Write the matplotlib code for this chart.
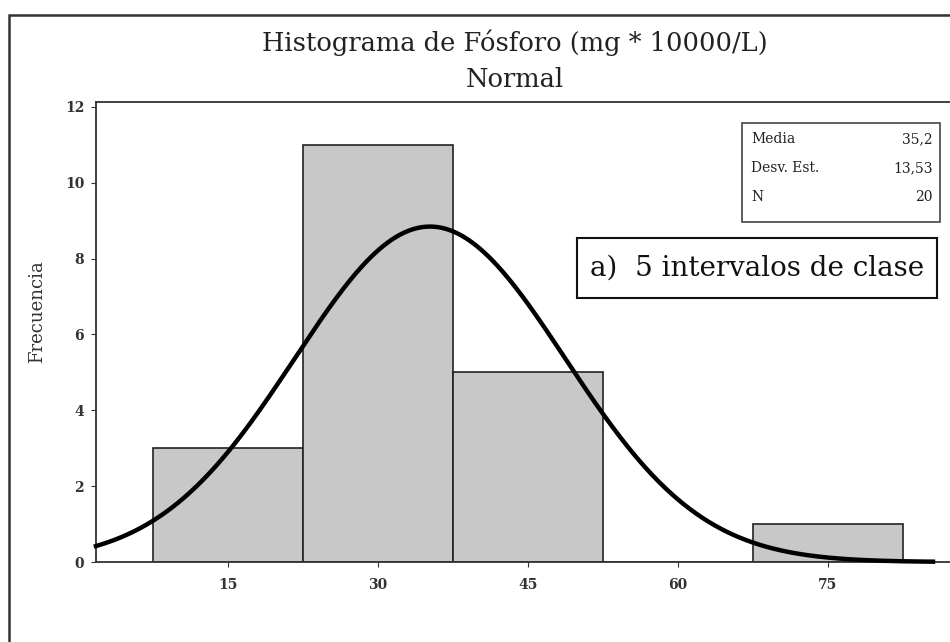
import numpy as np
import matplotlib
matplotlib.use("Agg")
import matplotlib.pyplot as plt
from matplotlib.patches import Rectangle

# histogram data
bin_edges = [7.5, 22.5, 37.5, 52.5, 67.5, 82.5]
counts = [3, 11, 5, 0, 1]
media = 35.2
desv = 13.53
n = 20
xticks = [15, 30, 45, 60, 75]
yticks = [0, 2, 4, 6, 8, 10, 12]

plt.rcParams['font.family'] = ['DejaVu Serif']

fig = plt.figure(figsize=(9.5, 6.42), dpi=100)
ax = fig.add_axes([0.101, 0.1246, 0.899, 0.7165])

widths = np.diff(bin_edges)
ax.bar(bin_edges[:-1], counts, width=widths, align='edge',
       color='#c8c8c8', edgecolor='#222222', linewidth=1.2, zorder=2)

# normal curve scaled to the histogram
bw = widths[0]
xs = np.linspace(1.8, 85.5, 400)
ys = n * bw / (desv * np.sqrt(2 * np.pi)) * np.exp(-0.5 * ((xs - media) / desv) ** 2)
ax.plot(xs, ys, color='black', linewidth=3.2, zorder=3, clip_on=False)

ax.set_xlim(1.8, 87.2)
ax.set_ylim(0, 12.13)
ax.set_xticks(xticks)
ax.set_yticks(yticks)
ax.tick_params(labelsize=10, colors='#333333', length=3.5, pad=8)
ax.tick_params(axis='y', pad=5)
for lbl in ax.get_xticklabels() + ax.get_yticklabels():
    lbl.set_fontweight('bold')
ax.spines['right'].set_visible(False)
for s in ax.spines.values():
    s.set_color('#333333')
    s.set_linewidth(1.3)
ax.set_ylabel('Frecuencia', fontsize=13, color='#333333')
ax.yaxis.set_label_coords(-0.058, 0.545)

fig.text(0.542, 0.933, 'Histograma de Fósforo (mg * 10000/L)', ha='center', va='center',
         fontsize=18.5, color='#222222')
fig.text(0.542, 0.876, 'Normal', ha='center', va='center', fontsize=18.5, color='#222222')

# stats box
box = Rectangle((0.781, 0.654), 0.208, 0.155, transform=fig.transFigure,
                fill=False, edgecolor='#444444', linewidth=1.2)
fig.patches.append(box)
rows = [('Media', '35,2'), ('Desv. Est.', '13,53'), ('N', str(n))]
for i, (lab, val) in enumerate(rows):
    yy = 0.783 - i * 0.045
    fig.text(0.791, yy, lab, ha='left', va='center', fontsize=10, color='#222222')
    fig.text(0.982, yy, val, ha='right', va='center', fontsize=10, color='#222222')

# class interval annotation
box2 = Rectangle((0.607, 0.536), 0.379, 0.093, transform=fig.transFigure,
                 fill=True, facecolor='white', edgecolor='#111111', linewidth=1.5, zorder=5)
fig.patches.append(box2)
fig.text(0.797, 0.582, 'a)  5 intervalos de clase', ha='center', va='center',
         fontsize=20, color='#111111', zorder=6)

# outer frame
frame = Rectangle((0.0095, -0.1), 1.2, 1.077, transform=fig.transFigure,
                  fill=False, edgecolor='#333333', linewidth=1.8)
fig.patches.append(frame)

fig.savefig('out.png', dpi=100)
